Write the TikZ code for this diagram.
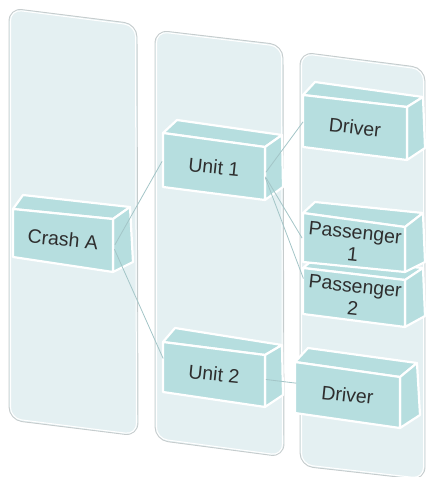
\documentclass[tikz,border=0pt]{standalone}
\usepackage{fontspec}
\setmainfont{Liberation Sans}
\definecolor{panelfill}{HTML}{E4F0F2}
\definecolor{panelline}{HTML}{C6CCCD}
\definecolor{boxfill}{HTML}{B6DEDF}
\definecolor{linkcol}{HTML}{A3C5C7}
\definecolor{txt}{HTML}{2E2E2E}
\tikzset{
  panelbg/.style={fill=panelfill, draw=panelline, line width=0.9pt, rounded corners=13pt},
  panelin/.style={draw=white, line width=1pt, rounded corners=11pt},
  face/.style={fill=boxfill, draw=white, line width=2.2pt, line join=round},
  boxtext/.style={rotate=-6, minimum width=104pt, minimum height=50pt, inner sep=0pt,
    text=txt, font=\fontsize{19.5}{22.5}\selectfont, align=center},
  link/.style={draw=linkcol, line width=0.8pt}
}
% #1 fTL #2 fTR #3 fBR #4 fBL #5 bTL #6 bTR #7 bBR
\newcommand\mycuboid[7]{%
  \path[face] #5 -- #6 -- #2 -- #1 -- cycle;
  \path[face] #2 -- #6 -- #7 -- #3 -- cycle;
  \path[face] #1 -- #2 -- #3 -- #4 -- cycle;
}
\newcommand\mypanel[4]{%
  \path[panelbg] #1 -- #2 -- #3 -- #4 -- cycle;
}
\begin{document}
\begin{tikzpicture}[x=1pt,y=-1pt]
\useasboundingbox (0,0) rectangle (426,477);
% panels
\mypanel{(9,8)}{(137,24)}{(138,436)}{(9,420)}
\path[panelin] (10.5,9.5) -- (135.5,25.5) -- (136.5,434.5) -- (10.5,418.5) -- cycle;
\mypanel{(155,30)}{(283,45)}{(284,457)}{(155,440)}
\path[panelin] (156.5,31.5) -- (281.5,46.5) -- (282.5,455.5) -- (156.5,438.5) -- cycle;
\mypanel{(300,52)}{(425,68)}{(425,480)}{(300,466)}
\path[panelin] (301.5,53.5) -- (423.5,69.5) -- (423.5,478.5) -- (301.5,464.5) -- cycle;
% boxes
\mycuboid{(13,209)}{(113,219)}{(113,272)}{(13,257)}{(23,195)}{(130,207)}{(133,262)}
\node[boxtext] (crash) at (63,239.3) {Crash A};
\mycuboid{(163,133)}{(265,147)}{(265,200)}{(163,187)}{(177,120)}{(282,135)}{(283,187)}
\node[boxtext] (unit1) at (214,166.8) {Unit 1};
\mycuboid{(163,342)}{(265,355)}{(265,407)}{(163,392)}{(175,328)}{(282,345)}{(283,395)}
\node[boxtext] (unit2) at (214,374) {Unit 2};
\mycuboid{(303,95)}{(407,107)}{(407,160)}{(303,147)}{(315,82)}{(423,97)}{(425,148)}
\node[boxtext] (driver1) at (355,127.3) {Driver};
\mycuboid{(303,268)}{(405,280)}{(405,327)}{(303,314)}{(315,258)}{(423,268)}{(425,316)}
\node[boxtext] (pass2) at (354,297) {Passenger\\2};
\mycuboid{(303,213)}{(405,227)}{(405,272)}{(303,262)}{(315,202)}{(423,213)}{(425,262)}
\node[boxtext] (pass1) at (354,243.5) {Passenger\\1};
\mycuboid{(295,362)}{(400,377)}{(400,428)}{(295,413)}{(308,348)}{(417,363)}{(420,415)}
\node[boxtext] (driver2) at (347.5,395) {Driver};
% connectors
\draw[link] (crash.east) -- (unit1.west);
\draw[link] (crash.-5) -- (unit2.169);
\draw[link] (unit1.east) -- (driver1.west);
\draw[link] (unit1.-5) -- (pass1.west);
\draw[link] (unit1.-6) -- (pass2.166);
\draw[link] (unit2.east) -- (driver2.173);
\end{tikzpicture}
\end{document}
